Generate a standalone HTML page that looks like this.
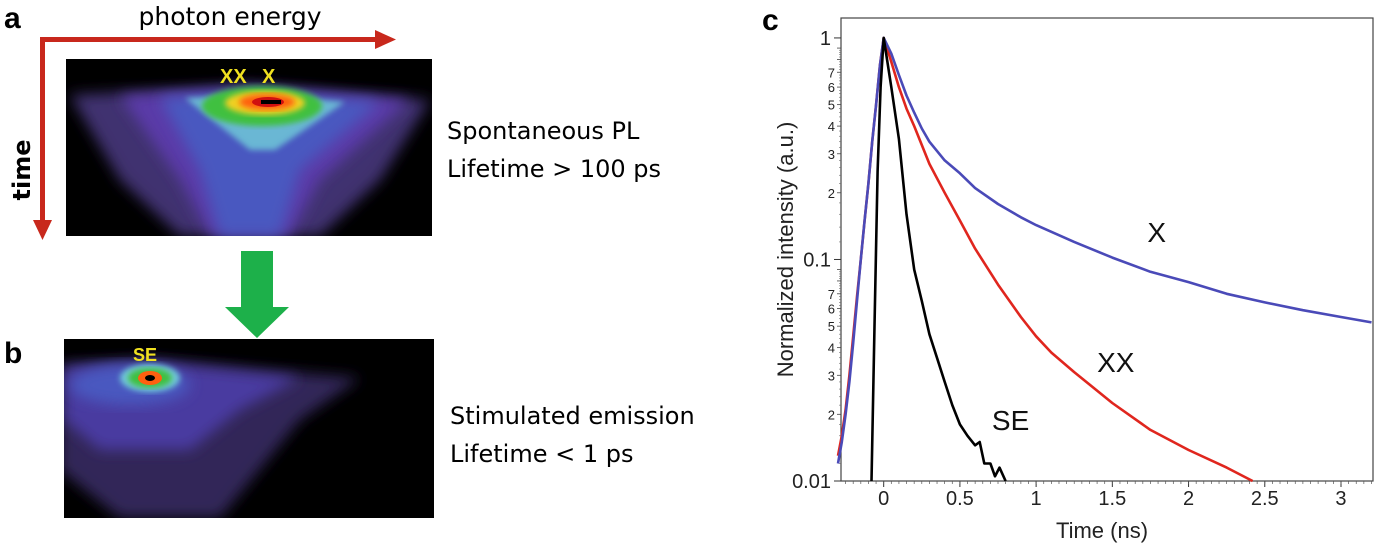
<!DOCTYPE html>
<html><head><meta charset="utf-8"><style>
body{margin:0;background:#fff;width:1375px;height:548px;overflow:hidden;font-family:"Liberation Sans",sans-serif}
svg{position:absolute;left:0;top:0;font-family:"Liberation Sans",Arial,sans-serif}
</style></head><body>
<svg width="1375" height="548" viewBox="0 0 1375 548">
<defs>
<filter id="bl" x="-20%" y="-20%" width="140%" height="140%"><feGaussianBlur stdDeviation="7"/></filter>
<filter id="bl2"><feGaussianBlur stdDeviation="3"/></filter>
<clipPath id="ca"><rect x="66" y="59" width="366" height="177"/></clipPath>
<clipPath id="cb"><rect x="64" y="339" width="370" height="179"/></clipPath>
</defs>
<g>
<text x="4" y="28" font-size="30" font-weight="bold">a</text>
<text x="230" y="25" font-size="25" text-anchor="middle" font-family="'DejaVu Sans',sans-serif">photon energy</text>
<g><rect x="40" y="37" width="340" height="5" fill="#c8281c"/><polygon points="375,30 396,39.5 375,49" fill="#c8281c"/></g>
<g><rect x="40" y="37" width="5" height="188" fill="#c8281c"/><polygon points="33,220 42.5,240 52,220" fill="#c8281c"/></g>
<text transform="translate(30,170) rotate(-90)" font-size="24" font-weight="bold" text-anchor="middle" font-family="'DejaVu Sans',sans-serif">time</text>
<g clip-path="url(#ca)">
<rect x="66" y="59" width="366" height="177" fill="#000"/>
<polygon points="70,95 250,86 430,100 380,180 320,236 180,236 120,180" fill="#403070" filter="url(#bl)"/>
<polygon points="120,96 250,88 410,100 320,180 290,236 210,236 180,180" fill="#5a3aa8" filter="url(#bl)"/>
<polygon points="160,98 260,92 380,102 300,170 280,236 220,236 200,170" fill="#4a58c0" filter="url(#bl)"/>
<polygon points="185,98 262,94 345,102 275,150 250,150" fill="#70c8d8" filter="url(#bl2)" opacity="0.85"/>
<ellipse cx="262" cy="106" rx="60" ry="20" fill="#40c040" filter="url(#bl2)"/>
<ellipse cx="265" cy="103" rx="40" ry="12" fill="#f0d020" filter="url(#bl2)"/>
<ellipse cx="267" cy="102" rx="28" ry="8" fill="#ff6010" filter="url(#bl2)"/>
<ellipse cx="268" cy="102" rx="16" ry="5" fill="#d01010"/>
<rect x="261" y="100" width="20" height="4" fill="#000"/>
<text x="220" y="83" font-size="20" font-weight="bold" fill="#f0e020">XX</text>
<text x="262" y="83" font-size="20" font-weight="bold" fill="#f0e020">X</text>
</g>
<text x="447" y="139" font-size="24" font-family="'DejaVu Sans',sans-serif">Spontaneous PL</text>
<text x="447" y="177" font-size="24" font-family="'DejaVu Sans',sans-serif">Lifetime &gt; 100 ps</text>
</g>
<g><rect x="241" y="251" width="32" height="57" fill="#1db04a"/><polygon points="225,307 289,307 257,338" fill="#1db04a"/></g>
<g>
<text x="4" y="363" font-size="30" font-weight="bold">b</text>
<g clip-path="url(#cb)">
<rect x="64" y="339" width="370" height="179" fill="#000"/>
<polygon points="60,364 150,360 360,378 300,420 220,518 120,518 60,470" fill="#302858" filter="url(#bl)"/>
<polygon points="64,368 150,362 300,378 240,410 190,450 100,450 64,420" fill="#4a3aa0" filter="url(#bl)"/>
<ellipse cx="130" cy="385" rx="60" ry="20" fill="#4a58c0" filter="url(#bl)"/>
<ellipse cx="150" cy="378" rx="30" ry="14" fill="#70c8d8" filter="url(#bl2)"/>
<ellipse cx="150" cy="378" rx="22" ry="10" fill="#40c040" filter="url(#bl2)"/>
<ellipse cx="150" cy="378" rx="12" ry="7" fill="#ff6010"/>
<ellipse cx="150" cy="378" rx="5" ry="3" fill="#000"/>
<text x="133" y="361" font-size="18" font-weight="bold" fill="#f0e020">SE</text>
</g>
<text x="450" y="424" font-size="24" font-family="'DejaVu Sans',sans-serif">Stimulated emission</text>
<text x="450" y="462" font-size="24" font-family="'DejaVu Sans',sans-serif">Lifetime &lt; 1 ps</text>
</g>
<text x="762" y="30" font-size="30" font-weight="bold">c</text>
<g id="chart"></g>
</svg>
<script>
const xTicks=[0,0.5,1,1.5,2,2.5,3];
const xTickLabels=["0","0.5","1","1.5","2","2.5","3"];
const yMajor=[1,0.1,0.01];
const yMajorLabels=["1","0.1","0.01"];
const minorDigits=[2,3,4,5,6,7,8,9];
const minorLabels=["2","3","4","5","6","7","",""];
const tX=[-0.3,-0.275,-0.25,-0.225,-0.2,-0.175,-0.15,-0.125,-0.1,-0.075,-0.05,-0.025,0,0.05,0.1,0.15,0.2,0.25,0.3,0.4,0.5,0.6,0.75,0.9,1.0,1.25,1.5,1.75,2.0,2.25,2.5,2.75,3.0,3.2];
const vX=[0.012,0.015,0.02,0.028,0.042,0.065,0.1,0.15,0.22,0.34,0.5,0.75,1,0.85,0.68,0.55,0.46,0.39,0.34,0.28,0.245,0.21,0.178,0.155,0.143,0.12,0.102,0.088,0.079,0.07,0.064,0.059,0.055,0.052];
const tXX=[-0.3,-0.275,-0.25,-0.225,-0.2,-0.175,-0.15,-0.125,-0.1,-0.075,-0.05,-0.025,0,0.05,0.1,0.15,0.2,0.3,0.4,0.5,0.6,0.75,0.9,1.0,1.1,1.25,1.5,1.75,2.0,2.25,2.42];
const vXX=[0.013,0.016,0.021,0.03,0.045,0.068,0.1,0.15,0.22,0.34,0.5,0.75,1,0.78,0.6,0.48,0.4,0.27,0.2,0.15,0.112,0.077,0.055,0.045,0.038,0.031,0.0225,0.017,0.0138,0.0115,0.01];
const tSE=[-0.08,-0.06,-0.04,-0.02,0,0.05,0.1,0.15,0.2,0.25,0.3,0.35,0.4,0.45,0.5,0.55,0.6,0.63,0.66,0.7,0.73,0.76,0.8];
const vSE=[0.01,0.05,0.25,0.6,1,0.6,0.35,0.16,0.09,0.065,0.046,0.036,0.028,0.022,0.018,0.016,0.0145,0.015,0.012,0.012,0.0105,0.0115,0.01];
const seriesNames=["X","XX","SE"];

const L=841,R=1373,T=18,B=481;
const xmin=-0.28,xmax=3.21;
const sx=t=>L+(t-xmin)/(xmax-xmin)*(R-L);
const sy=v=>B-(Math.log10(v)+2)/2.09*(B-T);
const NS="http://www.w3.org/2000/svg";
const g=document.getElementById('chart');
function mk(tag,attrs,parent){const e=document.createElementNS(NS,tag);for(const k in attrs)e.setAttribute(k,attrs[k]);(parent||g).appendChild(e);return e;}
const frame=mk('rect',{x:L,y:T,width:R-L,height:B-T,fill:'none',stroke:'#444','stroke-width':1.2});


xTicks.forEach((t,i)=>{
 const l=mk('line',{x1:sx(t),x2:sx(t),y1:B,y2:B+6,stroke:'#333'});
 
 
 const tx=mk('text',{x:sx(t),y:B+24,'font-size':20,'text-anchor':'middle',fill:'#222'});
 tx.textContent=xTickLabels[i];
 
 
});
for(let k=-0.25;k<3.2;k+=0.05){mk('line',{x1:sx(k),x2:sx(k),y1:B,y2:B+3,stroke:'#555','stroke-width':0.7});}
yMajor.forEach((v,i)=>{
 const l=mk('line',{x1:L-7,x2:L,y1:sy(v),y2:sy(v),stroke:'#333'});
 
 
 const tx=mk('text',{x:L-10,y:sy(v)+7,'font-size':20,'text-anchor':'end',fill:'#222'});
 tx.textContent=yMajorLabels[i];
 
 
});
[0.01,0.1].forEach(dec=>{
 minorDigits.forEach((d,i)=>{
  const v=dec*d;const y=sy(v);
  mk('line',{x1:L-4,x2:L,y1:y,y2:y,stroke:'#444','stroke-width':0.8});
  if(minorLabels[i]){const tx=mk('text',{x:L-6,y:y+5,'font-size':13,'text-anchor':'end',fill:'#222'});tx.textContent=minorLabels[i];
  
  }
  for(let j=1;j<5;j++){const vv=dec*(d-1+j/5);mk('line',{x1:L-2,x2:L,y1:sy(vv),y2:sy(vv),stroke:'#666','stroke-width':0.6});}
 });
});
const xt=mk('text',{x:(L+R)/2-5,y:538,'font-size':22,'text-anchor':'middle',fill:'#222'});
xt.textContent='Time (ns)';


const yt=mk('text',{transform:`translate(793,${(T+B)/2}) rotate(-90)`,'font-size':22,'text-anchor':'middle',fill:'#222'});
yt.textContent='Normalized intensity (a.u.)';


function line(ts,vs,color,name){
 const d=ts.map((t,i)=>(i?'L':'M')+sx(t).toFixed(1)+','+sy(vs[i]).toFixed(1)).join(' ');
 const p=mk('path',{d:d,fill:'none',stroke:color,'stroke-width':2.6,'stroke-linejoin':'round'});
 
 
}
line(tXX,vXX,'#e0261e','series-xx');
line(tX,vX,'#4a4ab8','series-x');
line(tSE,vSE,'#000','series-se');
const lab=[[1.73,0.12,seriesNames[0]],[1.4,0.031,seriesNames[1]],[0.71,0.017,seriesNames[2]]];
lab.forEach(a=>{const tx=mk('text',{x:sx(a[0]),y:sy(a[1]),'font-size':28,fill:'#111'});tx.textContent=a[2];

});
</script>
</body></html>
